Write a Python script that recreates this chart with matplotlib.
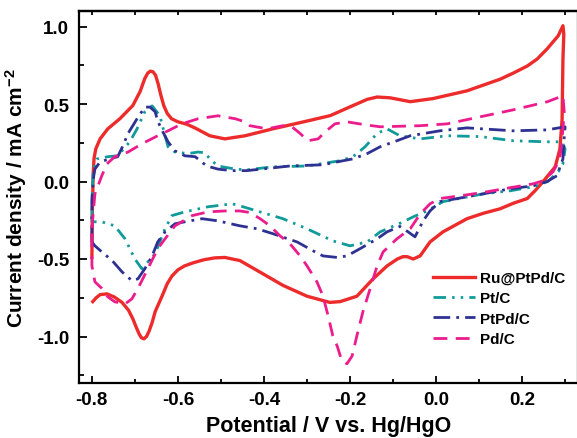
import matplotlib
matplotlib.use("Agg")
import matplotlib.pyplot as plt
from matplotlib.ticker import MultipleLocator

plt.rcParams['font.family'] = ['Liberation Sans', 'DejaVu Sans']
plt.rcParams['font.weight'] = 'bold'
plt.rcParams['mathtext.fontset'] = 'custom'
plt.rcParams['mathtext.bf'] = 'Liberation Sans:bold'
plt.rcParams['mathtext.rm'] = 'Liberation Sans:bold'
plt.rcParams['mathtext.default'] = 'bf'

# Ru@PtPd/C
ru_x = [-0.800, -0.799, -0.797, -0.795, -0.791, -0.781, -0.763, -0.735, -0.705, -0.688, -0.677, -0.670,
        -0.664, -0.658, -0.652, -0.646, -0.640, -0.633, -0.625, -0.615, -0.600, -0.580, -0.560, -0.526,
        -0.491, -0.444, -0.379, -0.300, -0.246, -0.193, -0.160, -0.137, -0.107, -0.060, -0.007, 0.072,
        0.149, 0.180, 0.212, 0.235, 0.258, 0.284, 0.295,
        0.297, 0.295, 0.293, 0.288, 0.277, 0.249, 0.230, 0.212, 0.180, 0.149, 0.110, 0.072, 0.016,
        -0.014, -0.037, -0.053, -0.067, -0.077, -0.090, -0.114, -0.147, -0.184, -0.223, -0.247, -0.300,
        -0.356, -0.409, -0.456, -0.491, -0.515, -0.540, -0.565, -0.585, -0.600, -0.614, -0.625, -0.637,
        -0.653, -0.660, -0.667, -0.673, -0.679, -0.685, -0.690, -0.697, -0.705, -0.715, -0.730, -0.748,
        -0.765, -0.781, -0.790, -0.798]
ru_y = [-0.49, -0.20, 0.05, 0.15, 0.21, 0.275, 0.34, 0.405, 0.49, 0.58, 0.665, 0.70,
        0.712, 0.708, 0.685, 0.63, 0.56, 0.49, 0.44, 0.405, 0.385, 0.37, 0.345, 0.295,
        0.275, 0.295, 0.34, 0.39, 0.425, 0.49, 0.53, 0.545, 0.54, 0.515, 0.535, 0.585,
        0.66, 0.70, 0.745, 0.79, 0.855, 0.94, 1.005,
        0.95, 0.79, 0.40, 0.21, 0.095, 0.0, -0.06, -0.11, -0.14, -0.176, -0.205, -0.24, -0.325,
        -0.39, -0.48, -0.50, -0.485, -0.485, -0.50, -0.545, -0.63, -0.74, -0.775, -0.78, -0.74,
        -0.67, -0.585, -0.51, -0.49, -0.493, -0.505, -0.525, -0.545, -0.57, -0.61, -0.66, -0.74,
        -0.84, -0.91, -0.965, -1.0, -1.015, -1.008, -0.985, -0.94, -0.885, -0.83, -0.78, -0.745,
        -0.725, -0.73, -0.75, -0.775]

# Pt/C
pt_x = [-0.800, -0.799, -0.797, -0.793, -0.788, -0.763, -0.740, -0.712, -0.695, -0.677, -0.660, -0.642,
        -0.630, -0.623, -0.607, -0.577, -0.553, -0.537, -0.526, -0.507, -0.467, -0.440, -0.379, -0.300,
        -0.223, -0.193, -0.165, -0.137, -0.114, -0.084, -0.037, 0.026, 0.102, 0.179, 0.258, 0.293, 0.300,
        0.295, 0.284, 0.260, 0.226, 0.172, 0.109, 0.072, 0.016, -0.021, -0.053, -0.084, -0.130, -0.160,
        -0.200, -0.240, -0.300, -0.356, -0.409, -0.456, -0.474, -0.530, -0.584, -0.614, -0.630, -0.653,
        -0.684, -0.700, -0.723, -0.747, -0.777, -0.798]
pt_y = [-0.26, -0.05, 0.06, 0.12, 0.146, 0.16, 0.166, 0.256, 0.34, 0.45, 0.488, 0.424,
        0.295, 0.224, 0.19, 0.18, 0.19, 0.185, 0.146, 0.10, 0.08, 0.075, 0.095, 0.10,
        0.134, 0.16, 0.224, 0.31, 0.34, 0.295, 0.275, 0.295, 0.29, 0.263, 0.256, 0.256, 0.21,
        0.115, 0.063, 0.0, -0.034, -0.06, -0.08, -0.10, -0.13, -0.19, -0.228, -0.27, -0.325, -0.39,
        -0.415, -0.383, -0.305, -0.24, -0.196, -0.157, -0.144, -0.163, -0.196, -0.22, -0.305, -0.466,
        -0.563, -0.50, -0.37, -0.286, -0.26, -0.26]

# PtPd/C
ptpd_x = [-0.800, -0.800, -0.796, -0.793, -0.781, -0.758, -0.740, -0.728, -0.716, -0.695, -0.677, -0.665,
          -0.653, -0.647, -0.635, -0.623, -0.607, -0.584, -0.560, -0.533, -0.507, -0.474, -0.440, -0.340,
          -0.263, -0.216, -0.193, -0.160, -0.130, -0.091, -0.060, 0.009, 0.072, 0.179, 0.258, 0.300,
          0.297, 0.295, 0.281, 0.258, 0.226, 0.172, 0.109, 0.049, 0.009, -0.014, -0.030, -0.049, -0.065,
          -0.084, -0.114, -0.137, -0.177, -0.207, -0.230, -0.263, -0.286, -0.323, -0.379, -0.416, -0.456,
          -0.507, -0.544, -0.584, -0.607, -0.630, -0.647, -0.660, -0.677, -0.693, -0.707, -0.730, -0.753,
          -0.777, -0.793, -0.800]
ptpd_y = [-0.39, -0.11, 0.03, 0.08, 0.127, 0.146, 0.16, 0.23, 0.31, 0.405, 0.48, 0.48,
          0.45, 0.39, 0.32, 0.256, 0.198, 0.166, 0.16, 0.10, 0.08, 0.07, 0.07, 0.10,
          0.108, 0.134, 0.146, 0.18, 0.224, 0.263, 0.295, 0.327, 0.346, 0.327, 0.333, 0.353,
          0.25, 0.146, 0.037, 0.0, -0.028, -0.047, -0.08, -0.11, -0.13, -0.19, -0.254, -0.357, -0.325,
          -0.29, -0.325, -0.37, -0.434, -0.48, -0.49, -0.48, -0.447, -0.39, -0.337, -0.305, -0.286,
          -0.254, -0.24, -0.26, -0.273, -0.325, -0.39, -0.48, -0.563, -0.628, -0.64, -0.583, -0.51,
          -0.454, -0.415, -0.39]

# Pd/C
pd_x = [-0.800, -0.793, -0.777, -0.765, -0.747, -0.716, -0.684, -0.647, -0.623, -0.591, -0.553, -0.507,
        -0.467, -0.444, -0.433, -0.393, -0.356, -0.335, -0.316, -0.298, -0.274, -0.258, -0.235, -0.207,
        -0.165, -0.130, -0.037, 0.026, 0.102, 0.179, 0.258, 0.295, 0.298, 0.295, 0.288, 0.272, 0.249,
        0.226, 0.172, 0.119, 0.072, 0.009, -0.014, -0.037, -0.060, -0.091, -0.123, -0.137, -0.153,
        -0.170, -0.184, -0.195, -0.207, -0.219, -0.230, -0.240, -0.251, -0.263, -0.277, -0.300, -0.316,
        -0.340, -0.363, -0.386, -0.409, -0.433, -0.456, -0.491, -0.530, -0.567, -0.607, -0.630, -0.647,
        -0.670, -0.693, -0.707, -0.723, -0.747, -0.763, -0.777, -0.793, -0.800, -0.800]
pd_y = [-0.30, -0.08, 0.037, 0.114, 0.16, 0.19, 0.243, 0.295, 0.327, 0.372, 0.405, 0.424,
        0.405, 0.385, 0.36, 0.34, 0.36, 0.353, 0.31, 0.263, 0.275, 0.32, 0.372, 0.385,
        0.366, 0.353, 0.36, 0.372, 0.417, 0.462, 0.514, 0.553, 0.45, 0.34, 0.146, 0.063, 0.005,
        -0.015, -0.04, -0.066, -0.086, -0.11, -0.144, -0.21, -0.305, -0.37, -0.454, -0.544, -0.69,
        -0.84, -0.995, -1.125, -1.176, -1.157, -1.06, -0.995, -0.866, -0.737, -0.647, -0.544, -0.48,
        -0.40, -0.35, -0.286, -0.24, -0.20, -0.19, -0.19, -0.196, -0.22, -0.286, -0.37, -0.434,
        -0.563, -0.69, -0.757, -0.79, -0.776, -0.744, -0.69, -0.647, -0.544, -0.30]

labels = ["Ru@PtPd/C", "Pt/C", "PtPd/C", "Pd/C"]
colors = ["#EE2B2B", "#109A9A", "#2E3192", "#EC1C8C"]

W, H = 577, 439
fig = plt.figure(figsize=(W / 100, H / 100), dpi=100)
ax = fig.add_axes([79 / W, 55 / H, 499 / W, 372 / H])

lw = 2.0
ax.plot(ru_x, ru_y, color=colors[0], lw=2.4, label=labels[0], solid_joinstyle='round')
ax.plot(pt_x, pt_y, color=colors[1], lw=lw, label=labels[1],
        linestyle=(0, (4.5, 2.2, 0.9, 2.2, 0.9, 2.2)), dash_capstyle='butt')
ax.plot(ptpd_x, ptpd_y, color=colors[2], lw=lw, label=labels[2],
        linestyle=(0, (6.0, 2.2, 1.0, 2.2)), dash_capstyle='butt')
ax.plot(pd_x, pd_y, color=colors[3], lw=lw, label=labels[3],
        linestyle=(0, (5.0, 3.0)), dash_capstyle='butt')

ax.set_xlim(-0.83, 0.33)
ax.set_ylim(-1.3, 1.1)
ax.xaxis.set_minor_locator(MultipleLocator(0.1))
ax.yaxis.set_minor_locator(MultipleLocator(0.25))
ax.set_xticks([-0.8, -0.6, -0.4, -0.2, 0.0, 0.2])
ax.set_xticklabels(["-0.8", "-0.6", "-0.4", "-0.2", "0.0", "0.2"])
ax.set_yticks([-1.0, -0.5, 0.0, 0.5, 1.0])
ax.set_yticklabels(["-1.0", "-0.5", "0.0", "0.5", "1.0"])

ax.tick_params(axis='both', which='both', direction='in', labelsize=13.5, width=1.3)
ax.tick_params(axis='x', which='major', length=5, pad=6)
ax.tick_params(axis='x', which='minor', length=3)
ax.tick_params(axis='y', which='major', length=6, pad=7)
ax.tick_params(axis='y', which='minor', length=3.5)
for lab in ax.get_xticklabels() + ax.get_yticklabels():
    lab.set_fontweight('bold')

sec = ax.secondary_xaxis('top')
sec.xaxis.set_major_locator(MultipleLocator(0.1))
sec.tick_params(direction='in', length=3, width=1.3, labeltop=False)
sec.spines['top'].set_linewidth(1.6)

for s in ax.spines.values():
    s.set_linewidth(1.6)

ax.set_xlabel("Potential / V vs. Hg/HgO", fontsize=15.5, fontweight='bold', labelpad=5)
ax.set_ylabel(r"Current density / mA cm$^{-2}$", fontsize=15, fontweight='bold', labelpad=6)

leg = ax.legend(loc='upper left', bbox_to_anchor=((433 - 79) / 499, (384 - 272) / 372),
                frameon=False, fontsize=11, handlelength=2.75, handletextpad=0.35,
                labelspacing=0.42, borderpad=0, borderaxespad=0)
for t in leg.get_texts():
    t.set_fontweight('bold')

fig.savefig("out.png", dpi=100)
